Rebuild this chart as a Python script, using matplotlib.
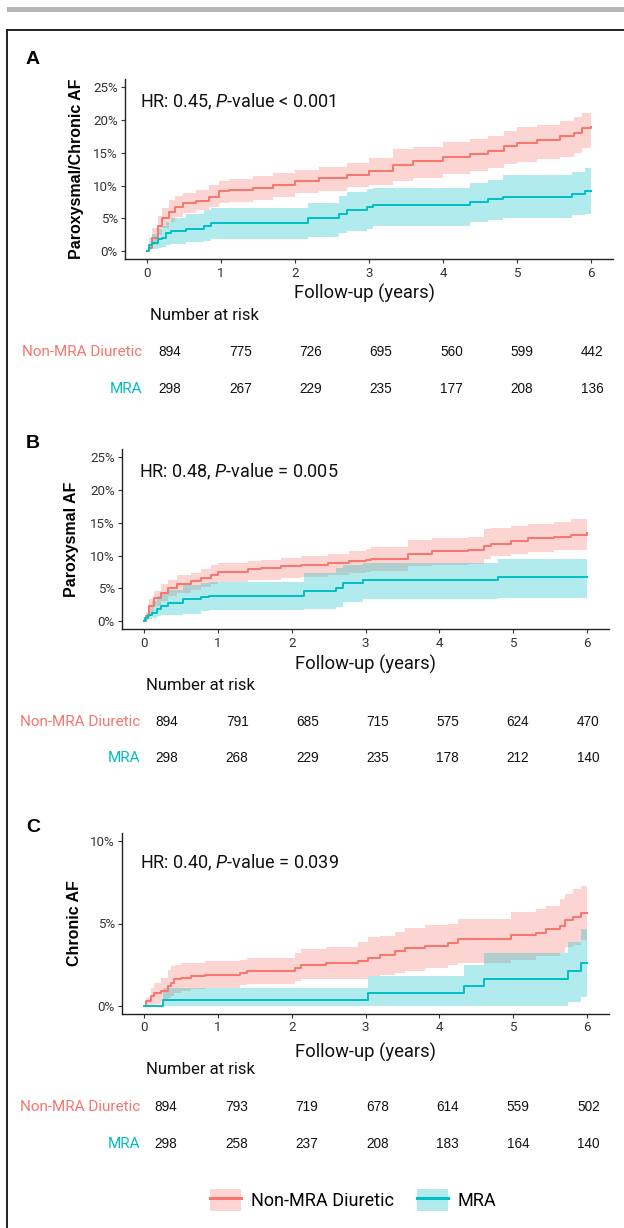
import matplotlib
matplotlib.use('Agg')
import matplotlib.pyplot as plt
from matplotlib.lines import Line2D
from matplotlib.patches import Patch, Rectangle

plt.rcParams['font.family'] = ['Roboto', 'DejaVu Sans']
plt.rcParams['mathtext.fontset'] = 'custom'
plt.rcParams['mathtext.rm'] = 'Roboto'
plt.rcParams['mathtext.it'] = 'Roboto:italic'

RED = '#F8766D'
TEAL = '#00BFC4'
W, H = 624, 1228

groups = ['Non-MRA Diuretic', 'MRA']
years = [0, 1, 2, 3, 4, 5, 6]

# panel A - paroxysmal/chronic AF (cumulative incidence, %)
a_red_t = [0, 0.02, 0.07, 0.14, 0.2, 0.29, 0.38, 0.48, 0.66, 0.84, 0.97, 1.1, 1.43, 1.7, 2.0,
           2.33, 2.7, 3.0, 3.33, 3.6, 4.0, 4.36, 4.61, 4.82, 5.0, 5.27, 5.58, 5.77, 5.88, 6.0]
a_red_est = [0, 0.5, 2.0, 3.8, 5.0, 6.0, 6.8, 7.3, 7.7, 8.3, 9.1, 9.3, 9.6, 10.1, 10.7,
             11.1, 11.6, 12.2, 13.2, 13.8, 14.3, 14.85, 15.3, 16.1, 16.5, 17.0, 17.5, 18.0, 18.75, 19.0]
a_red_lo = [0, 0.25, 1.0, 2.5, 3.5, 4.5, 5.2, 5.8, 6.2, 6.8, 7.3, 7.5, 7.8, 8.3, 8.8,
            9.2, 9.8, 10.1, 10.7, 11.2, 11.7, 12.2, 12.6, 13.3, 13.6, 14.0, 14.4, 15.0, 15.7, 16.1]
a_red_hi = [0, 1.0, 3.5, 5.3, 6.6, 7.8, 8.4, 8.8, 9.3, 10.1, 10.7, 11.0, 11.4, 11.9, 12.4,
            12.9, 13.4, 14.2, 15.5, 15.9, 16.7, 17.1, 17.5, 18.3, 19.0, 19.3, 19.8, 20.5, 21.0, 21.5]
a_teal_t = [0, 0.02, 0.07, 0.14, 0.2, 0.25, 0.32, 0.52, 0.77, 0.86, 2.17, 2.6, 2.7, 2.97, 3.05,
            4.36, 4.61, 4.81, 5.74, 5.92, 6.0]
a_teal_est = [0, 1.0, 1.3, 1.8, 2.0, 2.8, 3.0, 3.4, 3.8, 4.3, 5.0, 5.6, 6.2, 6.7, 7.1,
              7.5, 7.9, 8.2, 8.7, 9.2, 9.2]
a_teal_lo = [0, 0.2, 0.3, 0.5, 0.6, 1.0, 1.1, 1.4, 1.6, 1.8, 2.2, 2.7, 3.1, 3.4, 3.9,
             4.4, 4.8, 5.0, 5.5, 5.7, 5.7]
a_teal_hi = [0, 2.0, 2.6, 3.3, 3.8, 4.5, 5.0, 5.7, 6.2, 6.6, 7.3, 8.4, 9.0, 9.4, 9.7,
             10.4, 10.9, 11.6, 12.1, 12.6, 12.6]
a_risk_red = [894, 775, 726, 695, 560, 599, 442]
a_risk_teal = [298, 267, 229, 235, 177, 208, 136]

# panel B - paroxysmal AF
b_red_t = [0, 0.02, 0.07, 0.14, 0.23, 0.32, 0.45, 0.63, 0.77, 0.91, 1.0, 1.41, 1.59, 1.86, 2.13,
           2.49, 2.77, 3.0, 3.08, 3.58, 3.9, 4.39, 4.6, 4.7, 4.97, 5.2, 5.56, 5.78, 6.0]
b_red_est = [0, 0.75, 2.3, 3.5, 4.3, 5.1, 5.7, 6.1, 6.6, 7.1, 7.5, 7.9, 8.1, 8.4, 8.5,
             8.9, 9.2, 9.3, 9.5, 10.2, 10.7, 10.8, 11.4, 11.8, 12.2, 12.6, 12.9, 13.2, 13.45]
b_red_lo = [0, 0.25, 1.3, 2.3, 3.0, 3.8, 4.3, 4.8, 5.2, 5.7, 6.0, 6.2, 6.3, 6.5, 6.7,
            7.1, 7.3, 7.5, 7.6, 8.4, 8.6, 8.7, 9.4, 10.0, 10.2, 10.6, 10.8, 10.9, 10.9]
b_red_hi = [0, 1.3, 3.3, 4.6, 5.6, 6.3, 7.0, 7.4, 7.9, 8.5, 8.9, 9.1, 9.3, 9.6, 9.9,
            10.3, 10.7, 11.0, 11.3, 12.3, 12.6, 12.9, 14.0, 14.2, 14.5, 14.8, 15.1, 15.5, 15.7]
b_teal_t = [0, 0.01, 0.05, 0.11, 0.18, 0.23, 0.32, 0.52, 0.77, 0.88, 2.17, 2.6, 2.7, 2.97, 4.79, 6.0]
b_teal_est = [0, 0.5, 0.9, 1.3, 1.9, 2.3, 2.8, 3.3, 3.65, 3.9, 4.6, 5.1, 5.8, 6.2, 6.7, 6.7]
b_teal_lo = [0, 0.1, 0.25, 0.5, 0.75, 0.9, 1.0, 1.1, 1.5, 1.7, 1.9, 2.2, 2.9, 3.3, 3.6, 3.6]
b_teal_hi = [0, 1.0, 1.8, 3.0, 3.8, 4.3, 4.8, 5.5, 5.8, 6.0, 7.4, 8.1, 8.6, 8.9, 9.4, 9.4]
b_risk_red = [894, 791, 685, 715, 575, 624, 470]
b_risk_teal = [298, 268, 229, 235, 178, 212, 140]

# panel C - chronic AF
c_red_t = [0, 0.02, 0.09, 0.14, 0.23, 0.32, 0.36, 0.41, 0.5, 0.63, 0.82, 1.3, 1.4, 2.04, 2.13,
           2.46, 2.9, 3.04, 3.2, 3.4, 3.53, 3.8, 4.12, 4.25, 4.97, 5.31, 5.44, 5.63, 5.7, 5.81,
           5.92, 6.0]
c_red_est = [0, 0.3, 0.6, 0.8, 0.9, 1.2, 1.4, 1.6, 1.7, 1.8, 1.9, 2.0, 2.1, 2.3, 2.5,
             2.6, 2.7, 2.9, 3.1, 3.35, 3.5, 3.65, 3.8, 4.05, 4.3, 4.45, 4.65, 4.85, 5.2, 5.4,
             5.65, 5.65]
c_red_lo = [0, 0, 0.05, 0.1, 0.3, 0.5, 0.6, 0.8, 0.9, 1.0, 1.05, 1.25, 1.3, 1.5, 1.6,
            1.6, 1.6, 1.8, 1.85, 2.0, 2.1, 2.3, 2.5, 2.6, 2.8, 3.0, 3.0, 3.2, 3.55, 3.7,
            4.0, 4.0]
c_red_hi = [0, 0.5, 1.1, 1.4, 1.7, 2.2, 2.4, 2.5, 2.6, 2.6, 2.7, 2.8, 2.9, 3.2, 3.45,
            3.6, 3.85, 4.2, 4.25, 4.5, 4.7, 4.9, 5.0, 5.3, 5.7, 5.9, 6.05, 6.5, 6.8, 7.1,
            7.3, 7.3]
c_teal_t = [0, 0.25, 3.04, 4.34, 4.6, 5.74, 5.92, 6.0]
c_teal_est = [0, 0.35, 0.8, 1.2, 1.6, 2.1, 2.6, 2.6]
c_teal_lo = [0, 0, 0, 0, 0, 0.25, 0.55, 0.55]
c_teal_hi = [0, 1.05, 1.8, 2.5, 3.2, 3.9, 4.65, 4.65]
c_risk_red = [894, 793, 719, 678, 614, 559, 502]
c_risk_teal = [298, 258, 237, 208, 183, 164, 140]

panels = [
    dict(letter='A', ylabel='Paroxysmal/Chronic AF', hr=r'HR: 0.45, $\mathit{P}$-value < 0.001',
         yticks=[0, 5, 10, 15, 20, 25], ylim=(-1.25, 26.25),
         red=(a_red_t, a_red_est, a_red_lo, a_red_hi),
         teal=(a_teal_t, a_teal_est, a_teal_lo, a_teal_hi),
         risk=(a_risk_red, a_risk_teal),
         box=(125, 79, 613, 259.3), letter_y=60, ylab_x=-0.084, hr_xy=(0.031, 0.872),
         xlab=(0.491, 293), table=(170, 592, 316, 389), nar_x=150, lab_x=142.5),
    dict(letter='B', ylabel='Paroxysmal AF', hr=r'HR: 0.48, $\mathit{P}$-value = 0.005',
         yticks=[0, 5, 10, 15, 20, 25], ylim=(-1.25, 26.25),
         red=(b_red_t, b_red_est, b_red_lo, b_red_hi),
         teal=(b_teal_t, b_teal_est, b_teal_lo, b_teal_hi),
         risk=(b_risk_red, b_risk_teal),
         box=(122, 449, 609, 629.3), letter_y=444, ylab_x=-0.088, hr_xy=(0.034, 0.872),
         xlab=(0.5, 664), table=(167, 588, 686, 758), nar_x=146, lab_x=140),
    dict(letter='C', ylabel='Chronic AF', hr=r'HR: 0.40, $\mathit{P}$-value = 0.039',
         yticks=[0, 5, 10], ylim=(-0.5, 10.5),
         red=(c_red_t, c_red_est, c_red_lo, c_red_hi),
         teal=(c_teal_t, c_teal_est, c_teal_lo, c_teal_hi),
         risk=(c_risk_red, c_risk_teal),
         box=(122, 833, 609, 1014), letter_y=827, ylab_x=-0.082, hr_xy=(0.037, 0.834),
         xlab=(0.5, 1052.7), table=(166, 588.5, 1070, 1144), nar_x=146, lab_x=140),
]


def px_rect(left, top, right, bottom):
    return [left / W, 1 - bottom / H, (right - left) / W, (bottom - top) / H]


fig = plt.figure(figsize=(W / 100, H / 100), dpi=100)

# frame and top bar
fig.add_artist(Rectangle((7 / W, 1 - 12 / H), 1, 5 / H, transform=fig.transFigure,
                         color='#B5B5B5', lw=0))
fig.add_artist(Line2D([7 / W, 7 / W], [0, 1 - 30 / H], transform=fig.transFigure,
                      color='#222222', lw=1.4))
fig.add_artist(Line2D([7 / W, 1], [1 - 30 / H, 1 - 30 / H], transform=fig.transFigure,
                      color='#222222', lw=1.4))

for p in panels:
    l, t, r, b = p['box']
    ax = fig.add_axes(px_rect(l, t, r, b))
    for (tt, est, lo, hi), col in [(p['red'], RED), (p['teal'], TEAL)]:
        ax.fill_between(tt, lo, hi, step='post', color=col, alpha=0.3, lw=0)
        ax.step(tt, est, where='post', color=col, lw=1.4)
    ax.set_xlim(-0.3, 6.3)
    ax.set_ylim(*p['ylim'])
    ax.set_xticks(years)
    ax.set_yticks(p['yticks'])
    ax.set_yticklabels([f'{v}%' for v in p['yticks']])
    for s in ['top', 'right']:
        ax.spines[s].set_visible(False)
    for s in ['left', 'bottom']:
        ax.spines[s].set_color('#222222')
        ax.spines[s].set_linewidth(1.0)
    ax.tick_params(length=3, width=0.8, colors='#333333', labelsize=9.6, pad=2.2)
    ax.set_ylabel(p['ylabel'], family=['Liberation Sans', 'DejaVu Sans'], fontweight='bold',
                  fontsize=11.5, color='black')
    ax.yaxis.set_label_coords(p['ylab_x'], 0.5)
    ax.set_xlabel('Follow-up (years)', fontsize=13.2, color='#111111', va='center')
    ax.xaxis.set_label_coords(p['xlab'][0], (b - p['xlab'][1]) / (b - t))
    ax.text(p['hr_xy'][0], p['hr_xy'][1], p['hr'], transform=ax.transAxes, fontsize=13,
            color='#111111', va='center', ha='left')
    fig.text(33 / W, 1 - p['letter_y'] / H, p['letter'], fontsize=14, fontweight='bold',
             family=['Liberation Sans', 'DejaVu Sans'], ha='center', va='center')

    # number at risk table
    x0, x6, ty, ry = p['table']
    s = (ry - ty) / 2
    tab = fig.add_axes(px_rect(x0, ty - s / 2, x6, ry + s / 2))
    tab.set_xlim(0, 6)
    tab.set_ylim(2.5, -0.5)
    tab.axis('off')
    unit = (x6 - x0) / 6
    tab.text((p['nar_x'] - x0) / unit, 0, 'Number at risk', fontsize=12, color='#111111',
             ha='left', va='center')
    for row, (name, col, counts) in enumerate(zip(groups, [RED, TEAL], p['risk']), start=1):
        tab.text((p['lab_x'] - x0) / unit, row, name, fontsize=11, color=col,
                 ha='right', va='center')
        for yr, n in zip(years, counts):
            tab.text(yr, row, str(n), fontsize=9.8, color='#111111',
                     family=['Liberation Sans', 'DejaVu Sans'], ha='center', va='center')

handles = [(Patch(facecolor=RED, alpha=0.3, lw=0), Line2D([], [], color=RED, lw=2.2)),
           (Patch(facecolor=TEAL, alpha=0.3, lw=0), Line2D([], [], color=TEAL, lw=2.2))]
fig.legend(handles, groups, loc='center', bbox_to_anchor=(353 / W, 1 - 1200 / H), ncol=2,
           frameon=False, fontsize=13, handlelength=1.74, handleheight=1.44,
           handletextpad=0.53, columnspacing=1.27)

fig.savefig('out.png', dpi=100)
